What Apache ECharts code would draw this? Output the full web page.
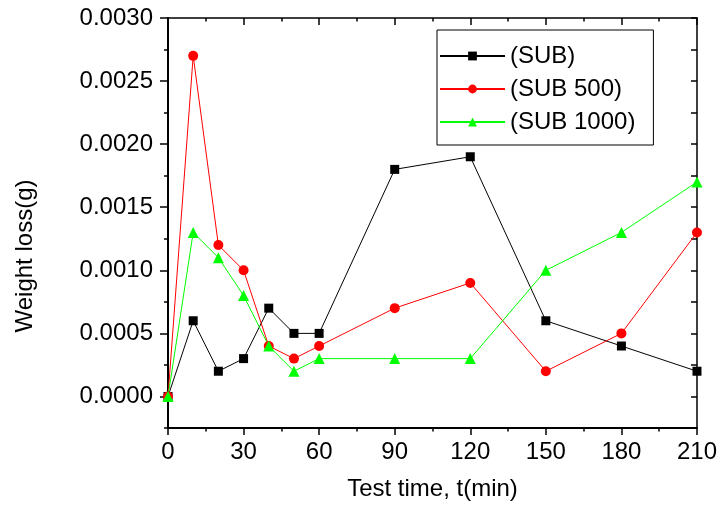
<!DOCTYPE html>
<html>
<head>
<meta charset="utf-8">
<script src="https://cdn.jsdelivr.net/npm/echarts@6/dist/echarts.min.js"></script>
<style>
  html, body { margin: 0; padding: 0; background: #fff; }
  #chart { width: 720px; height: 511px; }
</style>
</head>
<body>
<div id="chart"></div>
<script>
// Test times (min)
const times = [0, 10, 20, 30, 40, 50, 60, 90, 120, 150, 180, 210];
// Weight loss (g) for each sample
const sub = [0, 0.0006, 0.0002, 0.0003, 0.0007, 0.0005, 0.0005, 0.0018, 0.0019, 0.0006, 0.0004, 0.0002];
const sub500 = [0, 0.0027, 0.0012, 0.0010, 0.0004, 0.0003, 0.0004, 0.0007, 0.0009, 0.0002, 0.0005, 0.0013];
const sub1000 = [0, 0.0013, 0.0011, 0.0008, 0.0004, 0.0002, 0.0003, 0.0003, 0.0003, 0.0010, 0.0013, 0.0017];
const seriesNames = ['(SUB)', '(SUB 500)', '(SUB 1000)'];
// Labelled y ticks
const yTicks = [0, 0.0005, 0.0010, 0.0015, 0.0020, 0.0025, 0.0030];

const FONT = 'Liberation Sans, Arial, sans-serif';
const pairs = vals => times.map((t, i) => [t, vals[i]]);

const chart = echarts.init(document.getElementById('chart'), null, { renderer: 'canvas' });

const yMin = -0.00025, yMax = 0.003;
const grid = { left: 168, right: 22, top: 18, bottom: 83 };

chart.setOption({
  animation: false,
  backgroundColor: '#fff',
  grid: grid,
  legend: {
    left: 437, top: 30,
    orient: 'vertical',
    data: seriesNames,
    borderColor: '#000', borderWidth: 1,
    padding: [14, 18, 11, 2],
    itemWidth: 65, itemHeight: 11, itemGap: 9,
    textStyle: { fontFamily: FONT, fontSize: 24, color: '#000', lineHeight: 24 }
  },
  xAxis: [
    {
      type: 'value', position: 'bottom', min: 0, max: 210, interval: 30,
      name: 'Test time, t(min)', nameLocation: 'middle', nameGap: 49,
      nameTextStyle: { fontFamily: FONT, fontSize: 24, color: '#000' },
      axisLine: { show: true, onZero: false, lineStyle: { color: '#000', width: 2 } },
      axisTick: { show: true, inside: false, length: 7, lineStyle: { color: '#000', width: 1.5 } },
      minorTick: { show: true, splitNumber: 2, length: 3.5, lineStyle: { color: '#000', width: 1.5 } },
      axisLabel: { fontFamily: FONT, fontSize: 24, color: '#000', margin: 12 },
      splitLine: { show: false }, minorSplitLine: { show: false }
    },
    {
      type: 'value', position: 'top', min: 0, max: 210, interval: 30,
      axisLine: { show: true, onZero: false, lineStyle: { color: '#000', width: 1.5 } },
      axisTick: { show: true, inside: true, length: 7, lineStyle: { color: '#000', width: 1.5 } },
      minorTick: { show: true, splitNumber: 2, length: 3.5, lineStyle: { color: '#000', width: 1.5 } },
      axisLabel: { show: false },
      splitLine: { show: false }, minorSplitLine: { show: false }
    }
  ],
  yAxis: [
    {
      type: 'value', position: 'left', min: yMin, max: yMax,
      axisLine: { show: true, onZero: false, lineStyle: { color: '#000', width: 2 } },
      axisTick: { show: true, inside: false, length: 8, customValues: yTicks, lineStyle: { color: '#000', width: 1.5 } },
      axisLabel: {
        fontFamily: FONT, fontSize: 24, color: '#000', margin: 15,
        customValues: yTicks,
        formatter: v => v.toFixed(4)
      },
      splitLine: { show: false }
    },
    {
      type: 'value', position: 'left', min: yMin, max: yMax, interval: 0.00025,
      axisLine: { show: false },
      axisTick: { show: true, inside: false, length: 4, lineStyle: { color: '#000', width: 1.5 } },
      axisLabel: { show: false },
      splitLine: { show: false }
    },
    {
      type: 'value', position: 'right', min: yMin, max: yMax, interval: 0.00025,
      axisLine: { show: true, onZero: false, lineStyle: { color: '#000', width: 1.5 } },
      axisTick: { show: true, inside: true, length: 6, lineStyle: { color: '#000', width: 1.5 } },
      axisLabel: { show: false },
      splitLine: { show: false }
    }
  ],
  graphic: [
    {
      type: 'text', x: 25, y: 256, rotation: Math.PI / 2,
      style: {
        text: 'Weight loss(g)', fontFamily: FONT, fontSize: 24, fill: '#000',
        align: 'center', verticalAlign: 'middle'
      }
    }
  ],
  series: [
    {
      name: seriesNames[0], type: 'line', data: pairs(sub),
      symbol: 'rect', symbolSize: 9,
      itemStyle: { color: '#000' }, lineStyle: { color: '#000', width: 1 }
    },
    {
      name: seriesNames[1], type: 'line', data: pairs(sub500),
      symbol: 'circle', symbolSize: 10,
      itemStyle: { color: '#ff0000' }, lineStyle: { color: '#ff0000', width: 1 }
    },
    {
      name: seriesNames[2], type: 'line', data: pairs(sub1000),
      symbol: 'triangle', symbolSize: 11,
      itemStyle: { color: '#00ff00' }, lineStyle: { color: '#00ff00', width: 1 }
    }
  ]
});
</script>
</body>
</html>
